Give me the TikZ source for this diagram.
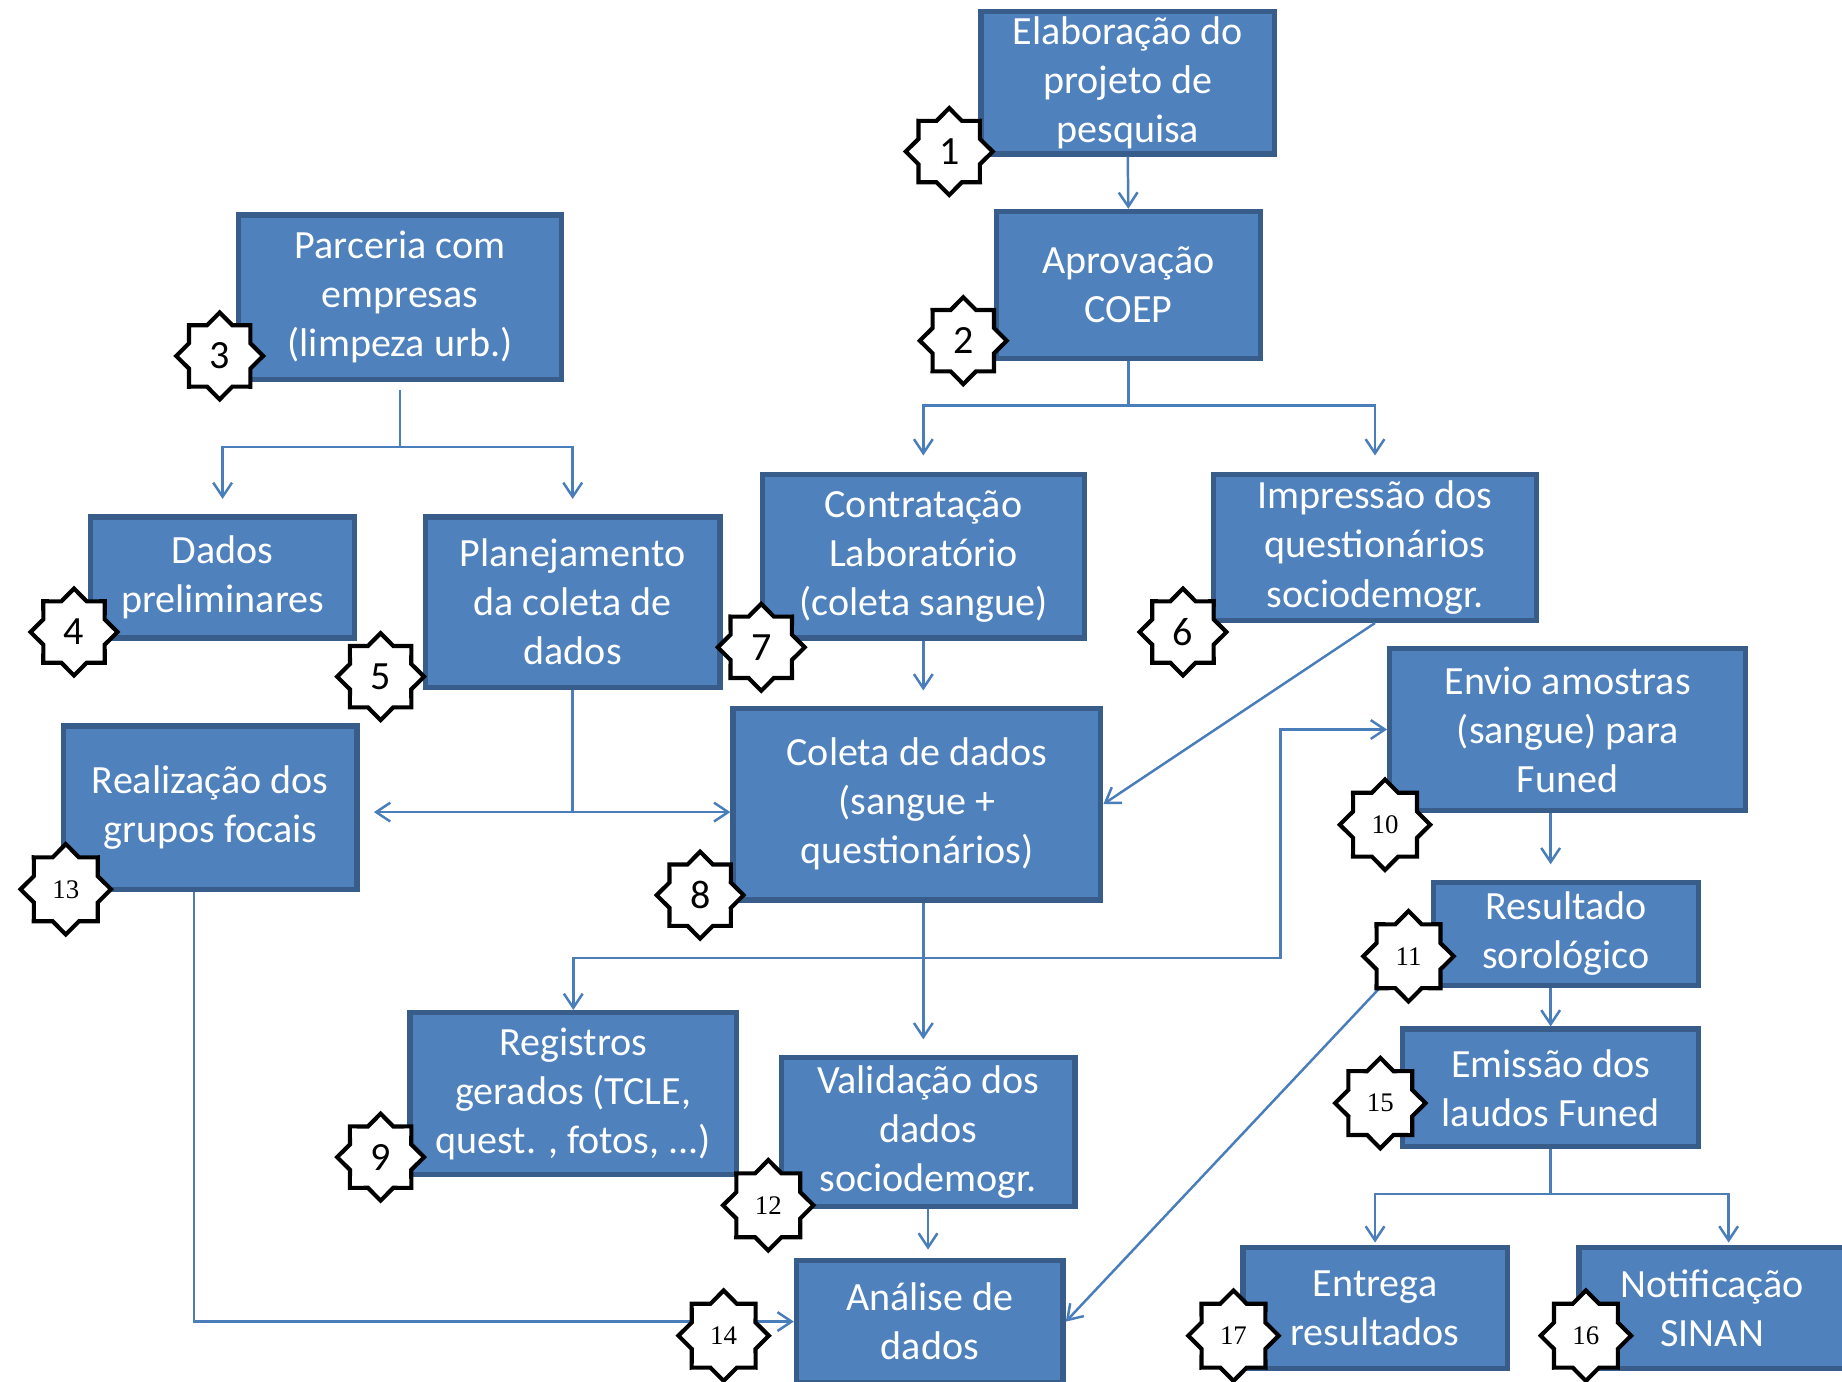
\documentclass[tikz,border=0pt]{standalone}
\usepackage{fontspec}
\setmainfont{Carlito}
\newfontfamily\numfont{Liberation Serif}
\usetikzlibrary{arrows.meta, shapes.geometric}

\definecolor{boxfill}{HTML}{4F81BD}
\definecolor{boxline}{HTML}{385D8A}
\definecolor{linkblue}{HTML}{4A7EBB}

\begin{document}
\begin{tikzpicture}[
    x=0.1mm, y=-0.1mm,
    % Styles
    stage/.style={draw=boxline, fill=boxfill, line width=1.3pt, text=white, align=center, inner sep=0pt, font={\fontsize{9.7}{11.9}\selectfont}},
    badge/.style={star, star points=8, star point ratio=1.31, draw=black, fill=white, line width=1pt, minimum size=7.4mm, inner sep=0pt, font={\fontsize{9.7}{11.9}\selectfont}},
    smallbadge/.style={badge, minimum size=7.7mm, font={\numfont\fontsize{6.5}{7}\selectfont}},
    link/.style={-{Straight Barb[length=1.2mm, width=1.6mm]}, linkblue, line width=0.6pt},
]
\useasboundingbox (0,0) rectangle (1568,1176);

% Project and approval
\node[stage, minimum width=25mm, minimum height=12.1mm] (elab) at (960,70.5) {Elaboração do\\projeto de\\pesquisa};
\node[stage, minimum width=22.5mm, minimum height=12.5mm] (aprov) at (960.5,242.5) {Aprovação\\COEP};

% Partnership branch (left)
\node[stage, minimum width=27.5mm, minimum height=14mm] (parc) at (340.5,253) {Parceria com\\empresas\\(limpeza urb.)};
\node[stage, minimum width=22.5mm, minimum height=10.3mm] (dprel) at (189.5,491.5) {Dados\\preliminares};
\node[stage, minimum width=25.1mm, minimum height=14.5mm] (plan) at (487.5,512.5) {Planejamento\\da coleta de\\dados};

% Laboratory and questionnaires
\node[stage, minimum width=27.4mm, minimum height=13.9mm] (contr) at (786,473.5) {Contratação\\Laboratório\\(coleta sangue)};
\node[stage, minimum width=27.5mm, minimum height=12.4mm] (impr) at (1170.5,466) {Impressão dos\\questionários\\sociodemogr.};

% Data collection
\node[stage, minimum width=31.3mm, minimum height=16.3mm] (coleta) at (780.5,684.5) {Coleta de dados\\(sangue +\\questionários)};
\node[stage, minimum width=25mm, minimum height=13.9mm] (grupos) at (179,687.5) {Realização dos\\grupos focais};
\node[stage, minimum width=27.8mm, minimum height=13.8mm] (regis) at (488,931) {Registros\\gerados (TCLE,\\quest. , fotos, ...)};
\node[stage, minimum width=25mm, minimum height=12.7mm] (valid) at (790,963.5) {Validação dos\\dados\\sociodemogr.};
\node[stage, minimum width=22.7mm, minimum height=10.4mm] (anal) at (791.5,1125) {Análise de\\dados};

% Funed branch (right)
\node[stage, minimum width=30.3mm, minimum height=13.8mm] (envio) at (1334.5,621) {Envio amostras\\(sangue) para\\Funed};
\node[stage, minimum width=22.6mm, minimum height=8.8mm] (resul) at (1333,795) {Resultado\\sorológico};
\node[stage, minimum width=25.2mm, minimum height=10mm] (emiss) at (1320,926) {Emissão dos\\laudos Funed};
\node[stage, minimum width=22.5mm, minimum height=10.3mm] (entr) at (1170.5,1113.5) {Entrega\\resultados};
\node[stage, minimum width=22.7mm, minimum height=10.3mm] (notif) at (1457.5,1113.5) {Notificação\\SINAN};

% Connectors
\draw[link] (elab.south) -- (aprov.north);
\draw[link, shorten >=1.4mm] (aprov.south) -- ++(0,38) -| (contr.north);
\draw[link, shorten >=1.4mm] (aprov.south) -- ++(0,38) -| (impr.north);
\draw[link, shorten <=0.7mm, shorten >=1.3mm] (parc.south) -- ++(0,55) -| (dprel.north);
\draw[link, shorten <=0.7mm, shorten >=1.3mm] (parc.south) -- ++(0,55) -| (plan.north);
\draw[link, shorten >=1.3mm] (contr.south) -- (contr.south |- coleta.north);
\draw[link] (impr.south) -- (coleta.east);

\draw[linkblue, line width=0.6pt] (plan.south) -- ++(0,104) coordinate (j5);
\draw[link] (j5) -- (j5 -| coleta.west);
\draw[link, shorten >=1.2mm] (j5) -- (j5 -| grupos.east);

\coordinate (j8) at (coleta.south -| contr.south);
\path (j8) ++(0,47) coordinate (k8);
\draw[link, shorten >=1.3mm] (j8) -- (j8 |- valid.north);
\draw[link] (k8) -| (regis.north);
\draw[link] (k8) -- ++(304,0) |- (envio.west);

\draw[link, shorten >=1.3mm] (envio.south -| emiss.north) -- (resul.north -| emiss.north);
\draw[link] (resul.south -| emiss.north) -- (emiss.north);
\draw[link, shorten >=0.2mm] (emiss.south) -- ++(0,38) -| (entr.north);
\draw[link, shorten >=0.2mm] (emiss.south) -- ++(0,38) -| ([xshift=1.4mm]notif.north);

\draw[link] (resul.west) -- (anal.east);
\draw[link, shorten >=0.7mm] (valid.south) -- (valid.south |- anal.north);
\draw[link] ([xshift=-1.4mm]grupos.south) |- (anal.west);

% Step numbers
\node[badge] (s1) at (808,129) {1};
\node[badge] (s2) at (820,290) {2};
\node[badge] (s3) at (187,303) {3};
\node[badge] (s4) at (63,538) {4};
\node[badge] (s5) at (324,576) {5};
\node[badge] (s6) at (1007,538) {6};
\node[badge] (s7) at (648,551) {7};
\node[badge] (s8) at (596,762) {8};
\node[badge] (s9) at (324,985) {9};
\node[smallbadge] (s10) at (1179,702) {10};
\node[smallbadge] (s11) at (1199,814) {11};
\node[smallbadge] (s12) at (654,1026) {12};
\node[smallbadge] (s13) at (56,757) {13};
\node[smallbadge] (s14) at (616,1137) {14};
\node[smallbadge] (s15) at (1175,939) {15};
\node[smallbadge] (s16) at (1350,1137) {16};
\node[smallbadge] (s17) at (1050,1137) {17};

\end{tikzpicture}
\end{document}
